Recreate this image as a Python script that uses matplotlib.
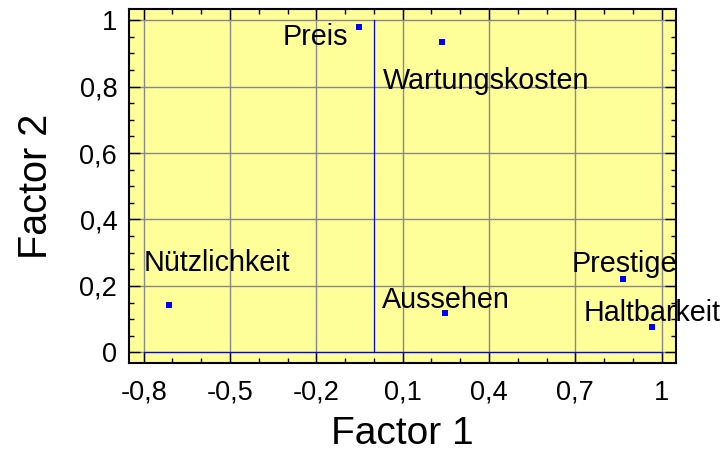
import matplotlib.pyplot as plt
from matplotlib.ticker import FuncFormatter, MultipleLocator

plt.rcParams["font.family"] = ["Liberation Sans", "DejaVu Sans"]

# factor loadings
names = ["Preis", "Wartungskosten", "Nützlichkeit", "Aussehen", "Prestige", "Haltbarkeit"]
factor1 = [-0.051, 0.238, -0.712, 0.246, 0.867, 0.966]
factor2 = [0.980, 0.934, 0.144, 0.117, 0.220, 0.075]

x_ticks = [-0.8, -0.5, -0.2, 0.1, 0.4, 0.7, 1.0]
y_ticks = [0, 0.2, 0.4, 0.6, 0.8, 1.0]

# label offsets from each point, in points (left / baseline anchored)
label_offsets = {
    "Preis": (-55, -13),
    "Wartungskosten": (-43, -34),
    "Nützlichkeit": (-18.5, 24),
    "Aussehen": (-45, 4),
    "Prestige": (-37, 5),
    "Haltbarkeit": (-49, 4.3),
}


def comma_fmt(v, pos):
    s = f"{v:.1f}".rstrip("0").rstrip(".")
    if s in ("-0", ""):
        s = "0"
    return s.replace(".", ",")


fig = plt.figure(figsize=(7.23, 4.55), dpi=100)
ax = fig.add_axes([129 / 723, 92 / 455, 547 / 723, 353.5 / 455])
ax.set_facecolor("#FFFF99")

ax.set_xlim(-0.851, 1.05)
ax.set_ylim(-0.032, 1.032)

ax.set_xticks(x_ticks)
ax.set_yticks(y_ticks)
ax.xaxis.set_minor_locator(MultipleLocator(0.1))
ax.yaxis.set_minor_locator(MultipleLocator(0.05))
ax.xaxis.set_major_formatter(FuncFormatter(comma_fmt))
ax.yaxis.set_major_formatter(FuncFormatter(comma_fmt))

ax.grid(True, which="major", color="#888888", linewidth=1.0)
ax.set_axisbelow(True)

# zero lines inside the grid range
ax.plot([0, 0], [y_ticks[0], y_ticks[-1]], color="#0000FF", linewidth=0.9, zorder=2)
ax.plot([x_ticks[0], x_ticks[-1]], [0, 0], color="#0000FF", linewidth=0.9, zorder=2)

ax.plot(factor1, factor2, linestyle="none", marker="s", markersize=4,
        color="#0000FF", markeredgewidth=0, zorder=3)

for name, x, y in zip(names, factor1, factor2):
    ax.annotate(name, (x, y), xytext=label_offsets[name], textcoords="offset points",
                ha="left", va="baseline", fontsize=20.7, color="black", zorder=4,
                annotation_clip=False)

ax.tick_params(which="both", direction="in", top=True, right=True,
               labelsize=19.5, width=1.0, colors="black")
ax.tick_params(which="major", length=8)
ax.tick_params(which="minor", length=3.5)
ax.tick_params(axis="y", pad=8.5)
ax.tick_params(axis="x", pad=12)

for sp in ax.spines.values():
    sp.set_linewidth(1.5)
    sp.set_color("black")

ax.set_xlabel("Factor 1", fontsize=28)
ax.set_ylabel("Factor 2", fontsize=28.5)
ax.xaxis.set_label_coords(0.5, -0.149)
ax.yaxis.set_label_coords(-0.135, 0.5)

fig.savefig("out.png", dpi=100)
